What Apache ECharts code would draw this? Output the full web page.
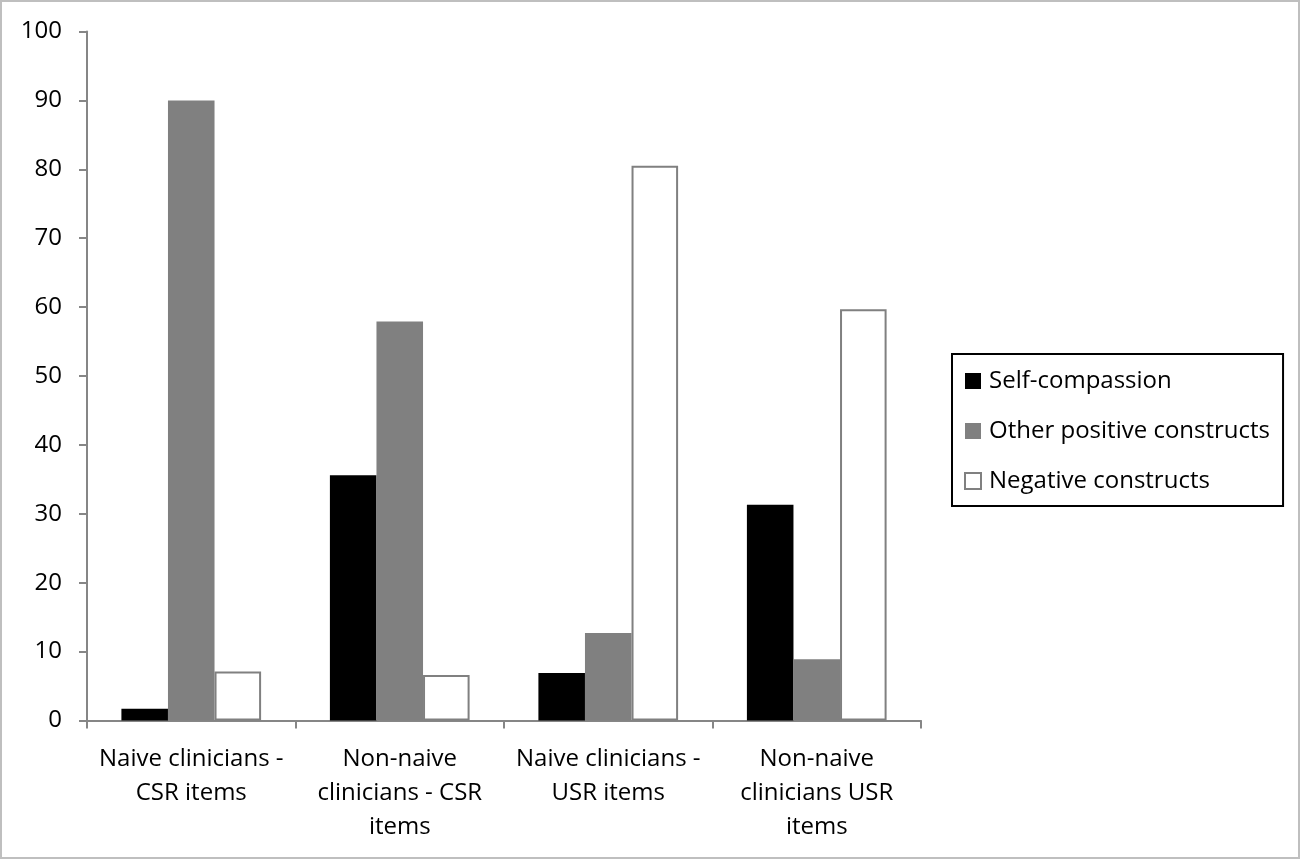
<!DOCTYPE html>
<html>
<head>
<meta charset="utf-8">
<script src="https://cdn.jsdelivr.net/npm/echarts@6/dist/echarts.min.js"></script>
<style>
html,body{margin:0;padding:0;background:#fff;}
#chart{width:1301px;height:860px;}
</style>
</head>
<body>
<div id="chart"></div>
<script>
var categories = [
  "Naive clinicians -\nCSR items",
  "Non-naive\nclinicians - CSR\nitems",
  "Naive clinicians -\nUSR items",
  "Non-naive\nclinicians USR\nitems"
];
var seriesNames = ["Self-compassion", "Other positive constructs", "Negative constructs"];
var selfCompassion = [1.7, 35.6, 6.9, 31.3];
var otherPositive = [90.0, 57.9, 12.7, 8.9];
var negative = [7.1, 6.6, 80.5, 59.7];
var yTicks = { min: 0, max: 100, interval: 10 };

var FONT = "Open Sans";
var FS = 24;
var chart = echarts.init(document.getElementById('chart'), null, {renderer: 'canvas'});
var option = {
  backgroundColor: '#ffffff',
  animation: false,
  textStyle: { fontFamily: FONT },
  graphic: [{
    type: 'rect',
    shape: { x: 1, y: 1, width: 1298, height: 857 },
    style: { fill: 'none', stroke: '#bfbfbf', lineWidth: 2 },
    silent: true
  }],
  grid: { left: 87, right: 380, top: 31.5, bottom: 139.5, containLabel: false },
  legend: {
    orient: 'vertical',
    left: 952,
    top: 354,
    itemWidth: 16,
    itemHeight: 16,
    itemGap: 26,
    padding: [15, 13, 13, 12],
    borderColor: '#000',
    borderWidth: 2,
    backgroundColor: '#fff',
    icon: 'rect',
    textStyle: { fontFamily: FONT, fontSize: FS, color: '#000', padding: [0, 0, 0, 3] },
    data: seriesNames
  },
  xAxis: {
    type: 'category',
    data: categories,
    axisLine: { lineStyle: { color: '#868686', width: 2 } },
    axisTick: { show: true, length: 8, lineStyle: { color: '#868686', width: 2 } },
    axisLabel: { fontFamily: FONT, fontSize: FS, color: '#000', lineHeight: 34, margin: 22, interval: 0 }
  },
  yAxis: {
    type: 'value',
    min: yTicks.min, max: yTicks.max, interval: yTicks.interval,
    axisLine: { show: true, lineStyle: { color: '#868686', width: 2 } },
    axisTick: { show: true, length: 8, lineStyle: { color: '#868686', width: 2 } },
    splitLine: { show: false },
    axisLabel: { fontFamily: FONT, fontSize: FS, color: '#000', margin: 25 }
  },
  series: [
    { name: seriesNames[0], type: 'bar', data: selfCompassion, barGap: '0%', barCategoryGap: '33%',
      itemStyle: { color: '#000000' } },
    { name: seriesNames[1], type: 'bar', data: otherPositive, barGap: '0%', barCategoryGap: '33%',
      itemStyle: { color: '#808080' } },
    { name: seriesNames[2], type: 'bar', data: negative, barGap: '0%', barCategoryGap: '33%',
      itemStyle: { color: '#ffffff', borderColor: '#808080', borderWidth: 2 } }
  ]
};
chart.setOption(option);
</script>
</body>
</html>
